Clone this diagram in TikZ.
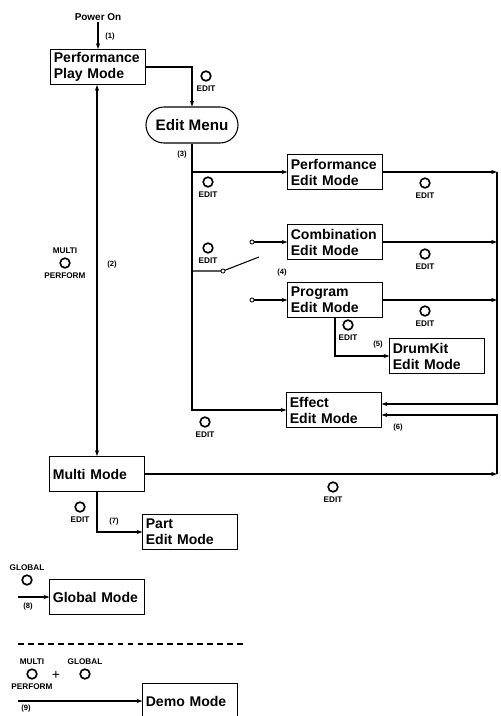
\documentclass[tikz,border=0pt]{standalone}
\usepackage{fontspec}
\setmainfont{Liberation Sans}
\usetikzlibrary{arrows.meta}

\tikzset{
  wire/.style={line width=0.9pt},
  flow/.style={wire, ->},
  modebox/.style={draw, line width=0.9pt, align=left, text width=2.65cm,
    inner xsep=2.5pt, inner ysep=1pt, minimum height=1.05cm,
    font=\fontsize{12}{13.7}\selectfont\bfseries},
  menubox/.style={draw, line width=0.9pt, rounded corners=0.54cm,
    minimum width=2.76cm, minimum height=1.08cm,
    font=\fontsize{13}{13}\selectfont\bfseries},
  keybtn/.style={circle, draw, line width=1.4pt, minimum size=0.29cm, inner sep=0pt},
  keylbl/.style={font=\fontsize{7}{7}\selectfont\bfseries, inner sep=0.5pt},
  stepno/.style={font=\fontsize{6.5}{6.5}\selectfont\bfseries, inner sep=0.5pt},
  contact/.style={circle, draw, line width=0.7pt, fill=white, minimum size=3.5pt, inner sep=0pt},
}

\begin{document}
\begin{tikzpicture}[x=0.03cm, y=-0.03cm, >={Stealth[length=5pt,width=3.6pt]}]
\useasboundingbox (0,0) rectangle (501,716);
\clip (0,0) rectangle (501,716);

% power on, play mode, edit menu
\node[font=\fontsize{8.5}{8.5}\selectfont\bfseries, inner sep=1pt] (power) at (98,17) {Power On};
\node[modebox] (play) at (98,67) {Performance\\Play Mode};
\node[menubox] (menu) at (192,125) {Edit Menu};
\draw[flow] (power) -- (play);
\draw[flow] (play.east) -| (menu.north);

% edit modes
\node[modebox] (perfedit) at (335,172) {Performance\\Edit Mode};
\node[modebox] (combedit) at (335,242) {Combination\\Edit Mode};
\node[modebox] (progedit) at (335,300) {Program\\Edit Mode};
\node[modebox] (drumedit) at (437,356) {DrumKit\\Edit Mode};
\node[modebox] (fxedit) at (334,410) {Effect\\Edit Mode};

\draw[flow] (menu.south) |- (fxedit.west);
\draw[flow] (menu.south |- perfedit.west) -- (perfedit.west);

% selector switch (4)
\coordinate (pivot) at (223,271);
\coordinate (blade) at (259,257);
\node[contact] (ccomb) at (252,242) {};
\node[contact] (cprog) at (252,300) {};
\draw[wire] (menu.south |- pivot) -- (pivot) -- (blade);
\node[contact] (cpivot) at (pivot) {};
\draw[flow] (ccomb) -- (combedit.west);
\draw[flow] (cprog) -- (progedit.west);

\draw[flow] (progedit.south) |- (drumedit.west);

% return bus into effect edit
\coordinate (busT) at (497,172);
\draw[flow] (perfedit.east) -- (busT);
\draw[flow] (combedit.east) -- (combedit.east -| busT);
\draw[flow] (progedit.east) -- (progedit.east -| busT);
\draw[flow] (busT) |- ([yshift=0.18cm]fxedit.east);

% multi mode
\node[modebox] (multi) at (97,474) {Multi Mode};
\node[modebox] (partedit) at (190,532) {Part\\Edit Mode};
\draw[wire, <->] (play.south -| multi.north) -- (multi.north);
\draw[flow] (multi.east) -- (multi.east -| busT);
\draw[flow] (multi.east -| busT) |- ([yshift=-0.15cm]fxedit.east);
\draw[flow] (multi.south) |- (partedit.west);

% global mode
\node[modebox] (global) at (97,597) {Global Mode};
\coordinate (gin) at (18,597);
\draw[flow] (gin) -- (global.west);

% separator and demo mode
\coordinate (dashL) at (18,644);
\coordinate (dashR) at (243,644);
\draw[wire, dash pattern=on 5pt off 3.5pt] (dashL) -- (dashR);
\node[modebox] (demo) at (190,701) {Demo Mode};
\coordinate (din) at (18,701);
\draw[flow] (din) -- (demo.west);

% EDIT keys
\foreach \k/\x/\y in {1/206/76, 2/208/182, 3/208/248, 4/205/422, 5/425/183,
  6/425/254, 7/425/311, 8/348/325, 9/333/487, 10/80/507}
  \node[keybtn, label={[keylbl, label distance=2.5pt]below:EDIT}] (edit\k) at (\x,\y) {};

% other keys
\node[keybtn, label={[keylbl, label distance=2.5pt]above:MULTI},
  label={[keylbl, label distance=2.5pt]below:PERFORM}] (multikey) at (65,263) {};
\node[keybtn, label={[keylbl, label distance=2.5pt]above:GLOBAL}] (globalkey) at (27,580) {};
\node[keybtn, label={[keylbl, label distance=2.5pt]above:MULTI},
  label={[keylbl, label distance=2.5pt]below:PERFORM}] (demomulti) at (32,674) {};
\node[keybtn, label={[keylbl, label distance=2.5pt]above:GLOBAL}] (demoglobal) at (85,674) {};
\node[font=\fontsize{12}{12}\selectfont, inner sep=0pt] (plus) at (56,675) {+};

% step numbers
\foreach \n/\x/\y in {1/110/37, 2/112/265, 3/182/155, 4/282/273, 5/378/345,
  6/398/428, 7/114/522, 8/28/607, 9/26/709}
  \node[stepno] (step\n) at (\x,\y) {(\n)};
\end{tikzpicture}
\end{document}
